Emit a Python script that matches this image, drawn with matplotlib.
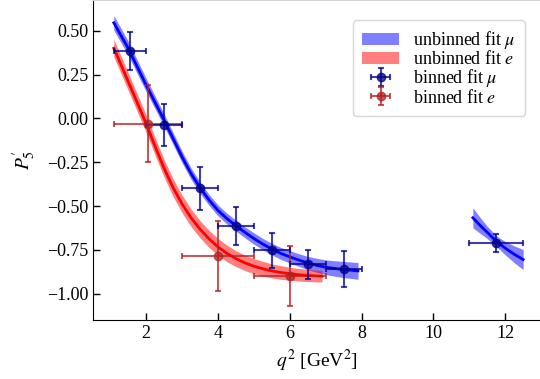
import matplotlib
matplotlib.use('Agg')
import matplotlib.pyplot as plt
import numpy as np


plt.rcParams['font.family'] = ['Liberation Serif', 'DejaVu Serif']
plt.rcParams['mathtext.fontset'] = 'stix'
plt.rcParams['font.size'] = 13

# unbinned fit, muon channel (two q2 ranges)
mu_fit_q2_a = [1.1, 1.25, 1.5, 1.75, 2.0, 2.25, 2.5, 2.75, 3.0, 3.25, 3.5, 3.75, 4.0, 4.25,
               4.5, 4.75, 5.0, 5.25, 5.5, 5.75, 6.0, 6.25, 6.5, 6.75, 7.0, 7.25, 7.5, 7.75, 7.9]
mu_fit_a = [0.545, 0.49, 0.40, 0.295, 0.19, 0.09, -0.01, -0.115, -0.22, -0.315, -0.395, -0.465,
            -0.525, -0.572, -0.612, -0.65, -0.685, -0.717, -0.745, -0.77, -0.79, -0.808, -0.825,
            -0.838, -0.849, -0.856, -0.862, -0.867, -0.87]
mu_fit_err_a = [0.042, 0.041, 0.04, 0.039, 0.038, 0.036, 0.035, 0.034, 0.033, 0.032, 0.032, 0.031,
                0.031, 0.031, 0.031, 0.031, 0.032, 0.032, 0.033, 0.034, 0.035, 0.036, 0.038, 0.04,
                0.042, 0.044, 0.046, 0.047, 0.048]
mu_fit_q2_b = [11.1, 11.3, 11.5, 11.75, 12.0, 12.25, 12.5]
mu_fit_b = [-0.567, -0.61, -0.65, -0.70, -0.74, -0.775, -0.805]
mu_fit_err_b = [0.057, 0.045, 0.035, 0.03, 0.038, 0.048, 0.057]

# unbinned fit, electron channel
e_fit_q2 = [1.1, 1.25, 1.5, 1.75, 2.0, 2.25, 2.5, 2.75, 3.0, 3.25, 3.5, 3.75, 4.0, 4.25,
            4.5, 4.75, 5.0, 5.25, 5.5, 5.75, 6.0, 6.25, 6.5, 6.75, 6.9]
e_fit = [0.40, 0.33, 0.21, 0.09, -0.03, -0.16, -0.285, -0.395, -0.488, -0.567, -0.632, -0.687,
         -0.733, -0.77, -0.80, -0.824, -0.843, -0.858, -0.87, -0.879, -0.886, -0.892, -0.896,
         -0.899, -0.90]
e_fit_err = [0.05, 0.05, 0.05, 0.05, 0.05, 0.05, 0.05, 0.05, 0.05, 0.05, 0.049, 0.049, 0.048,
             0.047, 0.045, 0.044, 0.043, 0.042, 0.04, 0.039, 0.037, 0.036, 0.035, 0.034, 0.033]

# binned fits: bin edges, value, error
mu_bin_lo = [1.1, 2.0, 3.0, 4.0, 5.0, 6.0, 7.0, 11.0]
mu_bin_hi = [2.0, 3.0, 4.0, 5.0, 6.0, 7.0, 8.0, 12.5]
mu_bin_val = [0.385, -0.036, -0.40, -0.613, -0.753, -0.833, -0.858, -0.71]
mu_bin_err = [0.11, 0.12, 0.123, 0.107, 0.10, 0.082, 0.103, 0.05]

e_bin_lo = [1.1, 3.0, 5.0]
e_bin_hi = [3.0, 5.0, 7.0]
e_bin_val = [-0.031, -0.784, -0.898]
e_bin_err = [0.22, 0.20, 0.17]


def band(ax, x, y, err, color, label=None):
    x = np.array(x)
    y = np.array(y)
    err = np.array(err)
    poly = ax.fill_between(x, y - err, y + err, color=color, alpha=0.5, lw=0, label=label)
    ax.plot(x, y, color=color, lw=2)
    return poly


def binned(ax, lo, hi, val, err, color, label):
    lo = np.array(lo)
    hi = np.array(hi)
    centers = (lo + hi) / 2
    return ax.errorbar(centers, val, yerr=err, xerr=[centers - lo, hi - centers],
                       fmt='o', color=color, ms=6, elinewidth=1.5, capsize=2,
                       capthick=1.5, alpha=0.75, label=label)


fig = plt.figure(figsize=(5.4, 3.79), dpi=100)
ax = fig.add_axes([93 / 540, 59 / 379, 1 - 93 / 540, 320 / 379])

h_mu = band(ax, mu_fit_q2_a, mu_fit_a, mu_fit_err_a, 'blue', label=r'unbinned fit $\mu$')
band(ax, mu_fit_q2_b, mu_fit_b, mu_fit_err_b, 'blue')
h_e = band(ax, e_fit_q2, e_fit, e_fit_err, 'red', label=r'unbinned fit $e$')

h_be = binned(ax, e_bin_lo, e_bin_hi, e_bin_val, e_bin_err, 'firebrick', r'binned fit $e$')
h_bmu = binned(ax, mu_bin_lo, mu_bin_hi, mu_bin_val, mu_bin_err, 'darkblue', r'binned fit $\mu$')

ax.set_xlim(0.52, 12.97)
ax.set_ylim(-1.15, 0.675)
ax.set_xticks([2, 4, 6, 8, 10, 12])
ax.set_yticks([-1.0, -0.75, -0.5, -0.25, 0.0, 0.25, 0.5])
ax.tick_params(direction='in', length=5, width=1)
ax.spines['right'].set_visible(False)
ax.spines['top'].set_color('lightgray')

ax.set_xlabel(r'$q^2$ [GeV$^2$]', fontsize=14)
ax.set_ylabel(r"$P_5^{\prime}$", fontsize=14, labelpad=6)

ax.legend(handles=[h_mu, h_e, h_bmu, h_be], loc='upper right',
          bbox_to_anchor=(0.986, 0.965), fontsize=13, handlelength=2.0,
          labelspacing=-0.05, handletextpad=0.8, borderpad=0.5)

fig.savefig('out.png', dpi=100)
